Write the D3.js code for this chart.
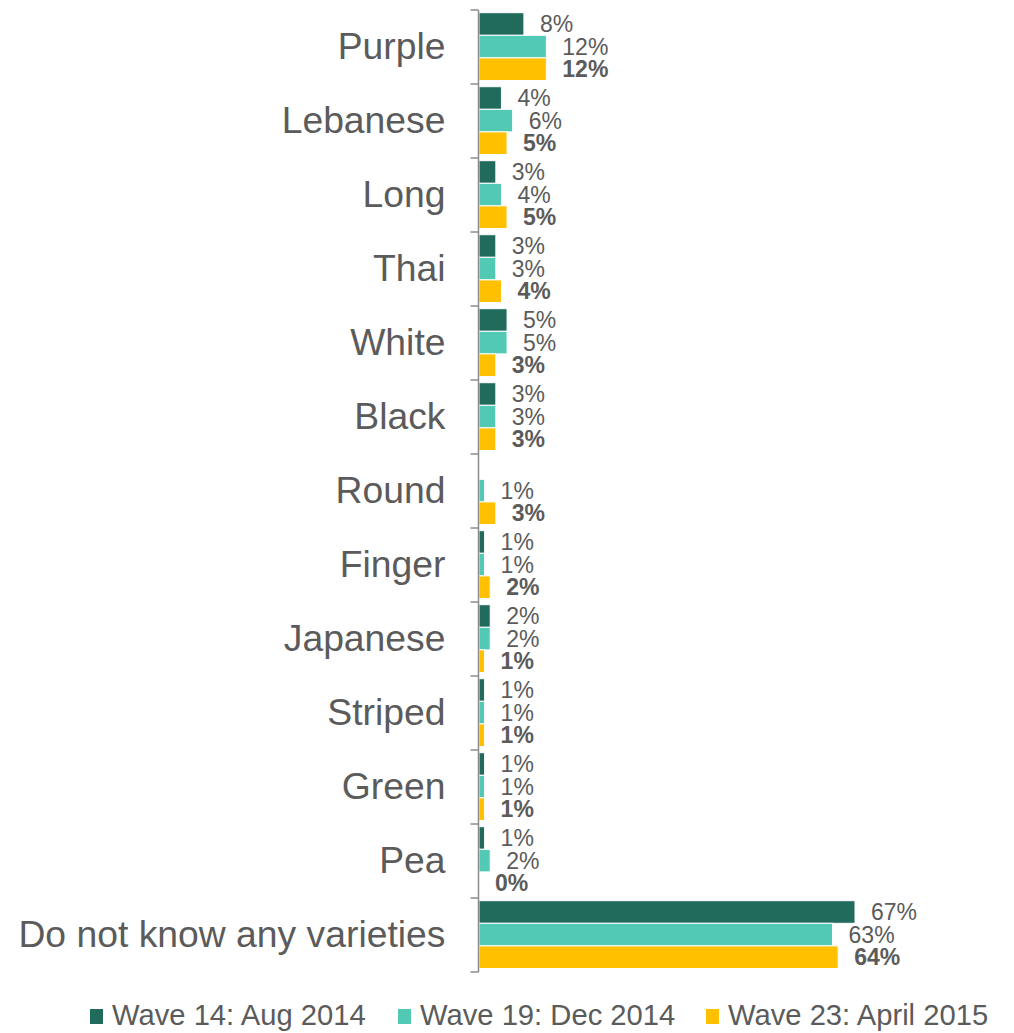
<!DOCTYPE html>
<html>
<head>
<meta charset="utf-8">
<script src="https://cdn.jsdelivr.net/npm/d3@7/dist/d3.min.js"></script>
<style>
  html, body { margin: 0; padding: 0; background: #fff; }
  svg { display: block; font-family: "Liberation Sans", Arial, sans-serif; }
</style>
</head>
<body>
<svg id="chart" width="1014" height="1033"></svg>
<script>
// Aubergine varieties known, by survey wave (percent of respondents)
const categories = ["Purple", "Lebanese", "Long", "Thai", "White", "Black", "Round",
  "Finger", "Japanese", "Striped", "Green", "Pea", "Do not know any varieties"];
const seriesNames = ["Wave 14: Aug 2014", "Wave 19: Dec 2014", "Wave 23: April 2015"];
const wave14 = [8, 4, 3, 3, 5, 3, null, 1, 2, 1, 1, 1, 67];
const wave19 = [12, 6, 4, 3, 5, 3, 1, 1, 2, 1, 1, 2, 63];
const wave23 = [12, 5, 5, 4, 3, 3, 3, 2, 1, 1, 1, 0, 64];
const seriesColors = ["#216B5D", "#52C9B5", "#FFC000"];

const seriesValues = [wave14, wave19, wave23];
const rows = categories.map((c, i) => ({
  category: c,
  values: seriesValues.map((s, k) => ({ key: k, value: s[i] }))
}));

const svg = d3.select("#chart");
const axisX = 478.5;
const textColor = "#5b5b5b";

const y = d3.scaleBand().domain(categories).range([10, 972]).padding(0);
const ySeries = d3.scaleBand().domain([0, 1, 2]).range([2.7, 70.5]).padding(0);
const x = d3.scaleLinear().domain([0, 67]).range([479, 855]);

// Bars
const groups = svg.append("g").selectAll("g")
  .data(rows).join("g")
  .attr("transform", d => `translate(0,${y(d.category)})`);

groups.selectAll("rect")
  .data(d => d.values.filter(v => v.value !== null && v.value > 0))
  .join("rect")
  .attr("x", x(0))
  .attr("y", v => ySeries(v.key))
  .attr("width", v => x(v.value) - x(0))
  .attr("height", ySeries.bandwidth())
  .attr("fill", v => seriesColors[v.key])
  .attr("stroke", "#fff")
  .attr("stroke-width", 1);

// Value labels
groups.selectAll("text.val")
  .data(d => d.values.filter(v => v.value !== null))
  .join("text")
  .attr("class", "val")
  .attr("x", v => x(v.value) + 16)
  .attr("y", v => ySeries(v.key) + ySeries.bandwidth() / 2)
  .attr("dy", "0.36em")
  .attr("font-size", 23)
  .attr("font-weight", v => v.key === 2 ? "bold" : "normal")
  .attr("fill", textColor)
  .text(v => v.value + "%");

// Category axis
const axis = d3.axisLeft(y).tickSize(0).tickPadding(33);
const axisG = svg.append("g")
  .attr("transform", `translate(${axisX},0)`)
  .call(axis);
axisG.select(".domain").remove();
axisG.selectAll("text")
  .attr("font-size", 37.3)
  .attr("fill", textColor)
  .attr("font-family", "'Liberation Sans', Arial, sans-serif");

// Axis line with boundary ticks
const boundaries = categories.map(c => y(c)).concat([y.range()[1]]);
svg.append("line")
  .attr("x1", axisX).attr("x2", axisX)
  .attr("y1", y.range()[0]).attr("y2", y.range()[1])
  .attr("stroke", "#8c8c8c").attr("stroke-width", 1.5);
svg.append("g").selectAll("line")
  .data(boundaries).join("line")
  .attr("x1", axisX - 8).attr("x2", axisX)
  .attr("y1", d => d).attr("y2", d => d)
  .attr("stroke", "#8c8c8c").attr("stroke-width", 1.5);

// Legend
const legendX = [90, 398, 706];
const legend = svg.append("g").selectAll("g")
  .data(seriesNames).join("g")
  .attr("transform", (d, i) => `translate(${legendX[i]},1009)`);
legend.append("rect")
  .attr("width", 13).attr("height", 15)
  .attr("fill", (d, i) => seriesColors[i]);
legend.append("text")
  .attr("x", 22).attr("y", 16)
  .attr("font-size", 29.2)
  .attr("fill", textColor)
  .text(d => d);
</script>
</body>
</html>
